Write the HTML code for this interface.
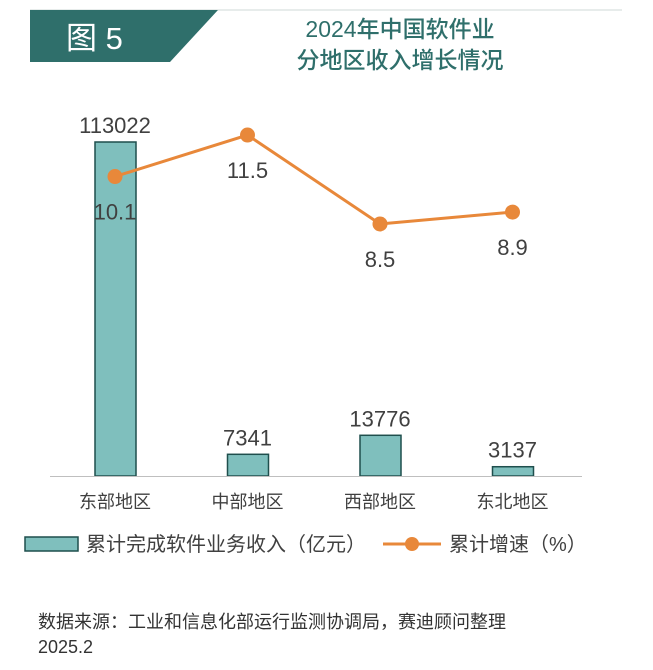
<!DOCTYPE html>
<html><head><meta charset="utf-8"><style>
body{margin:0;background:#fff;}
svg{display:block;font-family:"Liberation Sans","Noto Sans CJK SC",sans-serif;}
</style></head><body>
<svg width="653" height="670" viewBox="0 0 653 670" xmlns="http://www.w3.org/2000/svg">
<line x1="30" y1="10" x2="622" y2="10" stroke="#cfd8d7" stroke-width="1"/>
<polygon points="30,10 218,10 170,62 30,62" fill="#2f6f6b"/>
<text x="66" y="49" font-size="31" fill="#fff">图 5</text>
<text x="400" y="37" font-size="23" font-weight="500" fill="#2f6f6b" text-anchor="middle">2024年中国软件业</text>
<text x="400" y="68" font-size="23" font-weight="500" fill="#2f6f6b" text-anchor="middle">分地区收入增长情况</text>
<g id="plot"></g>
<line x1="50" y1="476.5" x2="582" y2="476.5" stroke="#bfbfbf" stroke-width="1"/>
<rect x="25" y="537" width="53" height="14" fill="#7fbfbd" stroke="#1f4f4d" stroke-width="1.5"/>
<text x="86" y="551" font-size="20" fill="#404040">累计完成软件业务收入（亿元）</text>
<line x1="383" y1="544" x2="441" y2="544" stroke="#e8883a" stroke-width="3"/>
<circle cx="412" cy="544" r="7" fill="#e8883a"/>
<text x="449" y="551" font-size="20" fill="#404040">累计增速（%）</text>
<text x="38" y="628" font-size="18" fill="#333">数据来源：工业和信息化部运行监测协调局，赛迪顾问整理</text>
<text x="38" y="653" font-size="18" fill="#333">2025.2</text>
</svg>
<script>
const categories=["东部地区","中部地区","西部地区","东北地区"];
const revenue=[113022,7341,13776,3137];
const growth=[10.1,11.5,8.5,8.9];
const NS="http://www.w3.org/2000/svg";
const g=document.getElementById("plot");
const baseY=476;
function xC(i){return 115+i*132.5;}
function yBar(v){return baseY-v*334/113022;}
function yLine(v){return baseY-v*29.65;}
function mk(t,a){const e=document.createElementNS(NS,t);for(const k in a)e.setAttribute(k,a[k]);g.appendChild(e);return e;}
categories.forEach((c,i)=>{
  const top=yBar(revenue[i]);
  const r=mk("rect",{x:xC(i)-20,y:top,width:41,height:baseY-top,fill:"#7fbfbd",stroke:"#1f4f4d","stroke-width":1.5});
  
  
  const t=mk("text",{x:xC(i),y:top-9,"font-size":22,fill:"#404040","text-anchor":"middle"});
  t.textContent=revenue[i];
  
  
  const l=mk("text",{x:xC(i),y:508,"font-size":18,fill:"#404040","text-anchor":"middle"});
  l.textContent=c;
  
  
});
const pts=growth.map((v,i)=>xC(i)+","+yLine(v)).join(" ");
const pl=mk("polyline",{points:pts,fill:"none",stroke:"#e8883a","stroke-width":3});


growth.forEach((v,i)=>{
  const c=mk("circle",{cx:xC(i),cy:yLine(v),r:7.5,fill:"#e8883a"});
  
  
  const t=mk("text",{x:xC(i),y:yLine(v)+43,"font-size":22,fill:"#404040","text-anchor":"middle"});
  t.textContent=v.toFixed(1);
  
  
});
</script>
</body></html>
